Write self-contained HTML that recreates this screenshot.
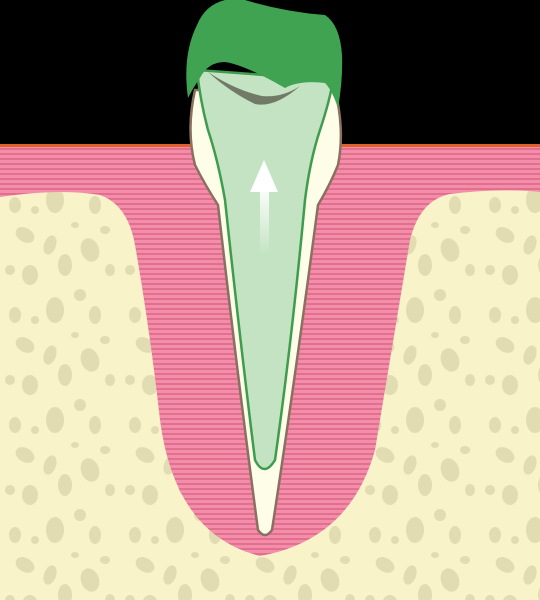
<!DOCTYPE html>
<html><head><meta charset="utf-8"><style>html,body{margin:0;padding:0;background:#000}svg{display:block}</style></head>
<body>
<svg width="540" height="600" viewBox="0 0 540 600">
<defs>
<pattern id="stripes" width="6" height="5" patternUnits="userSpaceOnUse">
<rect width="6" height="5" fill="#f28dab"/>
<rect y="3" width="6" height="2" fill="#e2708c"/>
</pattern>
<pattern id="spots" width="120" height="110" patternUnits="userSpaceOnUse">
<rect width="120" height="110" fill="#f8f3c9"/>
<g fill="#e2dcb2">
<ellipse cx="25" cy="15" rx="10" ry="7" transform="rotate(30 25 15)"/>
<ellipse cx="50" cy="25" rx="6" ry="10" transform="rotate(20 50 25)"/>
<ellipse cx="10" cy="50" rx="5" ry="5"/>
<ellipse cx="30" cy="55" rx="8" ry="10"/>
<ellipse cx="65" cy="45" rx="7" ry="11"/>
<ellipse cx="90" cy="30" rx="9" ry="12" transform="rotate(-20 90 30)"/>
<ellipse cx="110" cy="50" rx="5" ry="6"/>
<ellipse cx="55" cy="90" rx="9" ry="13"/>
<ellipse cx="80" cy="75" rx="6" ry="6"/>
<ellipse cx="95" cy="95" rx="6" ry="9"/>
<ellipse cx="15" cy="95" rx="6" ry="8"/>
<ellipse cx="35" cy="100" rx="4" ry="4"/>
<ellipse cx="105" cy="10" rx="5" ry="4"/>
<ellipse cx="75" cy="5" rx="4" ry="3"/>
</g>
</pattern>
<linearGradient id="arrowg" x1="0" y1="0" x2="0" y2="1">
<stop offset="0" stop-color="#fff"/><stop offset="1" stop-color="#fff" stop-opacity="0"/>
</linearGradient>
</defs>
<rect width="540" height="600" fill="#000"/>
<rect x="0" y="145" width="540" height="455" fill="url(#stripes)"/>
<rect x="0" y="144" width="540" height="3" fill="#e0602c"/>
<path d="M0,197 Q60,188 100,195 Q128,205 135,245 Q150,330 160,420 Q175,535 260,556 Q350,540 375,450 Q395,330 410,240 Q420,200 450,194 Q500,188 540,192 L540,600 L0,600 Z" fill="url(#spots)"/>
<path d="M195,90 Q186,130 195,165 Q205,185 218,205 Q238,380 258,530 Q265,540 272,530 Q295,380 318,205 Q330,185 338,165 Q345,130 335,90 Z" fill="#fefde8" stroke="#8a7060" stroke-width="2.5"/>
<path d="M197,70 Q200,100 208,130 Q218,160 225,200 Q240,340 255,460 Q264,478 275,460 Q292,340 305,200 Q310,160 320,130 Q330,100 333,80 Z" fill="#c3e3c3" stroke="#3e9c4e" stroke-width="2.5"/>
<path d="M188,98 Q182,55 197,25 Q205,5 225,0 L245,0 Q285,12 325,15 Q340,25 342,55 Q343,80 338,108 Q332,90 325,83 Q300,80 285,88 Q245,65 225,62 Q208,62 200,78 Q193,88 188,98 Z" fill="#3fa352"/>
<path d="M208,72 Q230,92 255,104 Q275,108 300,86 Q282,98 262,96 Q235,90 208,72 Z" fill="#707a66"/>
<g>
<rect x="260" y="185" width="9" height="70" fill="url(#arrowg)"/>
<polygon points="250,192 264,160 278,192" fill="#fff"/>
</g>
</svg>
</body></html>
